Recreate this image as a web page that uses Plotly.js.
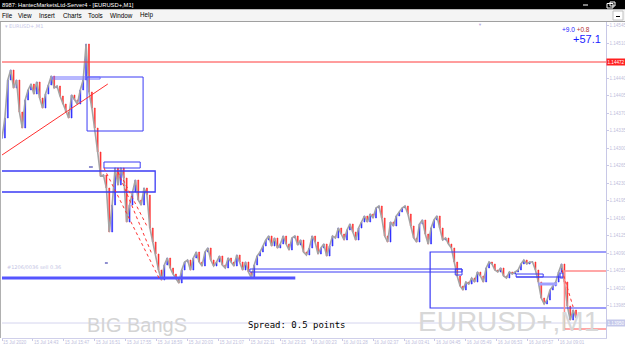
<!DOCTYPE html>
<html><head><meta charset="utf-8">
<script src="https://cdn.plot.ly/plotly-3.0.1.min.js"></script>
<style>html,body{margin:0;padding:0;background:#fff}#c{width:625px;height:350px}</style>
</head><body><div id="c"></div><script>
// bar time (minutes from 15 Jul 13:39, M1 bars)
const minutes = [0,6,12,18,24,30,36,42,48,54,60,66,72,78,84,90,96,102,108,114,120,126,132,138,144,150,156,162,168,174,180,186,192,198,204,210,216,222,228,234,240,246,252,258,264,270,276,282,288,294,300,306,312,318,324,330,336,342,348,354,360,366,372,378,384,390,396,402,408,414,420,426,432,438,444,450,456,462,468,474,480,486,492,498,504,510,516,522,528,534,540,546,552,558,564,570,576,582,588,594,600,606,612,618,624,630,636,642,648,654,660,666,672,678,684,690,696,702,708,714,720,726,732,738,744,750,756,762,768,774,780,786,792,798,804,810,816,822,828,834,840,846,852,858,864,870,876,882,888,894,900,906,912,918,924,930,936,942,948,954,960,966,972,978,984,990,996,1002,1008,1014,1020,1026,1032,1038,1044,1050,1056,1062,1068,1074,1080,1086,1092,1098,1104,1110,1116,1122,1128,1134,1140,1146,1152,1158,1164,1170,1176,1182,1188];
const closes = [
1.14320,1.14360,1.14436,1.14456,1.14420,1.14436,1.14372,1.14340,1.14396,1.14416,
1.14428,1.14408,1.14432,1.14400,1.14380,1.14408,1.14426,1.14444,1.14420,1.14424,
1.14404,1.14388,1.14372,1.14360,1.14406,1.14396,1.14388,1.14416,1.14436,1.14508,
1.14412,1.14380,1.14340,1.14292,1.14244,1.14246,1.14220,1.14132,1.14186,1.14260,
1.14226,1.14260,1.14240,1.14152,1.14186,1.14212,1.14236,1.14196,1.14186,1.14220,
1.14206,1.14140,1.14112,1.14088,1.14056,1.14036,1.14066,1.14080,1.14060,1.14048,
1.14040,1.14030,1.14056,1.14072,1.14076,1.14056,1.14080,1.14092,1.14072,1.14064,
1.14092,1.14100,1.14076,1.14064,1.14072,1.14084,1.14066,1.14060,1.14080,1.14072,
1.14064,1.14086,1.14072,1.14056,1.14072,1.14052,1.14040,1.14066,1.14084,1.14092,
1.14104,1.14116,1.14124,1.14104,1.14120,1.14100,1.14108,1.14124,1.14108,1.14096,
1.14120,1.14124,1.14106,1.14116,1.14092,1.14086,1.14100,1.14124,1.14112,1.14088,
1.14100,1.14108,1.14084,1.14104,1.14124,1.14120,1.14140,1.14128,1.14116,1.14136,
1.14148,1.14132,1.14116,1.14140,1.14152,1.14164,1.14152,1.14168,1.14160,1.14180,
1.14184,1.14160,1.14124,1.14112,1.14152,1.14144,1.14164,1.14172,1.14180,1.14184,
1.14168,1.14144,1.14120,1.14112,1.14148,1.14156,1.14128,1.14108,1.14140,1.14156,
1.14164,1.14140,1.14116,1.14120,1.14108,1.14100,1.14072,1.14044,1.14024,1.14016,
1.14032,1.14028,1.14040,1.14032,1.14052,1.14044,1.14032,1.14060,1.14072,1.14068,
1.14056,1.14052,1.14060,1.14044,1.14040,1.14052,1.14048,1.14052,1.14056,1.14068,
1.14076,1.14068,1.14072,1.14072,1.14056,1.14032,1.14000,1.13988,1.13996,1.14016,
1.14024,1.14032,1.14052,1.14068,1.14032,1.13984,1.13956,1.13976,1.13960];
const xTickVals = [0,64,128,192,256,320,384,448,512,576,640,704,768,832,896,960,1024,1088,1152];
const xTickText = ["15 Jul 2020","15 Jul 14:43","15 Jul 15:47","15 Jul 16:51","15 Jul 17:55","15 Jul 18:59","15 Jul 20:03","15 Jul 21:07","15 Jul 22:11","15 Jul 23:15","16 Jul 00:23","16 Jul 01:28","16 Jul 02:37","16 Jul 03:41","16 Jul 04:45","16 Jul 05:49","16 Jul 06:53","16 Jul 07:57","16 Jul 09:01"];
const yTickVals = [1.13985,1.14020,1.14055,1.14090,1.14125,1.14160,1.14195,1.14230,1.14265,1.14300,1.14335,1.14370,1.14405,1.14440,1.14510,1.14545];
const resistancePrice = 1.14472;
const bidPrice = 1.13950;
const title = "8987: HantecMarketsLtd-Server4 - [EURUSD+,M1]";
const menuItems = ["File","View","Insert","Charts","Tools","Window","Help"];

const opens = closes.map((c,i)=> i===0 ? c : closes[i-1]);
const highs = closes.map((c,i)=> Math.max(c, opens[i]));
const lows = closes.map((c,i)=> Math.min(c, opens[i]));

// pixel -> paper helpers for decoration
const L=2, T=22, W=604, H=316;
const px = x => (x-L)/W, py = y => (T+H-y)/H;

const B = '#3b3bf5';
const dataShape = (o) => Object.assign({xref:'x', yref:'y'}, o);
const shapes = [
  {type:'line', xref:'paper', yref:'y', x0:0, x1:1, y0:bidPrice, y1:bidPrice, line:{color:'#d4d4ee', width:1}, layer:'below'},
  {type:'rect', xref:'paper', yref:'paper', x0:px(0), x1:px(625), y0:py(0), y1:py(9.5), fillcolor:'#000', line:{width:0}},
  {type:'rect', xref:'paper', yref:'paper', x0:px(0), x1:px(625), y0:py(9.5), y1:py(21.5), fillcolor:'#f4f4f4', line:{width:0}},
  {type:'line', xref:'paper', yref:'paper', x0:px(0), x1:px(625), y0:py(21.5), y1:py(21.5), line:{color:'#a0a0a0', width:1}},
  {type:'line', xref:'paper', yref:'paper', x0:px(0.5), x1:px(0.5), y0:py(22), y1:py(338), line:{color:'#b0b0b0', width:1}},
  {type:'line', xref:'paper', yref:'paper', x0:px(583), x1:px(588), y0:py(5), y1:py(5), line:{color:'#fff', width:1}},
  {type:'rect', xref:'paper', yref:'paper', x0:px(607), x1:px(613), y0:py(3.5), y1:py(8), line:{color:'#fff', width:1}},
  {type:'rect', xref:'paper', yref:'paper', x0:px(610), x1:px(615), y0:py(2), y1:py(6), line:{color:'#fff', width:1}},
  {type:'rect', xref:'paper', yref:'paper', x0:px(613), x1:px(623), y0:py(11), y1:py(20), fillcolor:'#fff', line:{color:'#c0c0c0', width:1}},
  {type:'line', xref:'paper', yref:'paper', x0:px(616), x1:px(620), y0:py(16.5), y1:py(16.5), line:{color:'#000', width:1}},
  dataShape({type:'rect', x0:176, x1:292, y0:1.14334, y1:1.14442, line:{color:B, width:1}}),
  dataShape({type:'rect', x0:104, x1:203, y0:1.14438, y1:1.14442, line:{color:'#7070ff', width:1}}),
  {type:'line', xref:'paper', yref:'y', x0:0, x1:1, y0:resistancePrice, y1:resistancePrice, line:{color:'#ff3b3b', width:1}},
  dataShape({type:'line', x0:0, x1:219, y0:1.14286, y1:1.14428, line:{color:'#ff3030', width:1}}),
  dataShape({type:'rect', x0:211, x1:286, y0:1.14260, y1:1.14272, line:{color:B, width:1}}),
  dataShape({type:'rect', x0:-30, x1:317, y0:1.14212, y1:1.14254, line:{color:B, width:1.3}}),
  dataShape({type:'line', x0:-30, x1:607, y0:1.14040, y1:1.14040, line:{color:'#5555ff', width:3}}),
  dataShape({type:'rect', x0:513, x1:952, y0:1.14052, y1:1.14058, line:{color:B, width:1}}),
  dataShape({type:'rect', x0:938, x1:952, y0:1.14046, y1:1.14058, line:{color:B, width:1}}),
  dataShape({type:'rect', x0:886, x1:1300, y0:1.13980, y1:1.14092, line:{color:B, width:1.2}}),
  dataShape({type:'rect', x0:1064, x1:1120, y0:1.14042, y1:1.14048, line:{color:B, width:1}}),
  dataShape({type:'line', x0:1064, x1:1161, y0:1.14042, y1:1.14042, line:{color:B, width:1}}),
  dataShape({type:'rect', x0:1155, x1:1161, y0:1.14040, y1:1.14050, line:{color:B, width:1}}),
  dataShape({type:'line', x0:1110, x1:1149, y0:1.14028, y1:1.14028, line:{color:'#a0a0ff', width:3}}),
  dataShape({type:'rect', x0:1164, x1:1300, y0:1.13938, y1:1.14054, line:{color:'#ff8a8a', width:1.5}}),
  dataShape({type:'line', x0:1159, x1:1182, y0:1.14056, y1:1.13982, line:{color:'#ff3030', width:1, dash:'dot'}}),
  dataShape({type:'line', x0:211, x1:327, y0:1.14260, y1:1.14036, line:{color:'#ff3030', width:1, dash:'dot'}}),
  dataShape({type:'line', x0:240, x1:311, y0:1.14252, y1:1.14086, line:{color:'#ff3030', width:1, dash:'dot'}}),
  dataShape({type:'line', x0:251, x1:302, y0:1.14236, y1:1.14140, line:{color:'#ff3030', width:1, dash:'dot'}}),
  dataShape({type:'line', x0:180, x1:188, y0:1.14262, y1:1.14262, line:{color:'#2020a0', width:1}}),
  dataShape({type:'line', x0:213, x1:219, y0:1.14070, y1:1.14070, line:{color:'#2020a0', width:1}})
];

const ann = (o) => Object.assign({showarrow:false, xref:'paper', yref:'paper', yanchor:'middle'}, o);
const menuX = [0,16,37,61,86,108,138];
const annotations = [
  ann({x:px(0), y:py(5), xanchor:'left', text:title, font:{family:'Liberation Sans', size:5.8, color:'#fff'}}),
  ...menuItems.map((m,i)=>ann({x:px(menuX[i]), y:py(15.5), xanchor:'left', text:m, font:{family:'Liberation Sans', size:6.3, color:'#000'}})),
  ann({x:px(3), y:py(26.5), xanchor:'left', text:'▾ EURUSD+,M1', font:{family:'DejaVu Sans', size:5, color:'#c8c8e8'}}),
  ann({x:px(484), y:py(24.5), text:'▼', font:{size:4, color:'#b8a8e0'}}),
  ann({x:px(592), y:py(29.5), xanchor:'right', text:'<span style="color:#2020ff">+9.0</span> <span style="color:#b03030">+0.8</span>', font:{family:'Liberation Sans', size:6.5}}),
  ann({x:px(603), y:py(39.5), xanchor:'right', text:'+57.1', font:{family:'Liberation Sans', size:11, color:'#1a1aff'}}),
  ann({x:px(5), y:py(267), xanchor:'left', text:'#1206/0036 sell 0.36', font:{family:'DejaVu Sans', size:5, color:'#c4c4e4'}}),
  ann({x:px(85), y:py(325), text:'BIG BangS', font:{family:'Liberation Sans', size:20, color:'#d4d4d4'}}),
  ann({x:px(246), y:py(325), xanchor:'left', text:'Spread: 0.5 points', font:{family:'DejaVu Sans Mono', size:9, color:'#000'}}),
  ann({x:px(601), y:py(321), xanchor:'right', text:'EURUSD+,M1', font:{family:'Liberation Sans', size:28, color:'#d8d8d8'}}),
  ann({x:1, yref:'y', y:resistancePrice, xanchor:'left', text:resistancePrice.toFixed(5), bgcolor:'#ff2020', borderpad:0.5, font:{family:'Liberation Sans', size:4.6, color:'#fff'}}),
  ann({x:1, yref:'y', y:bidPrice, xanchor:'left', text:bidPrice.toFixed(5), bgcolor:'#c4c8ea', borderpad:0.5, font:{family:'Liberation Sans', size:4.6, color:'#fff'}})
];

const traces = [
  {type:'scatter', mode:'lines', x:minutes, y:closes, line:{color:'#a4a4a4', width:1.6}, hoverinfo:'skip'},
  {type:'candlestick', x:minutes, open:opens, high:highs, low:lows, close:closes,
   increasing:{line:{color:'#2a2aff', width:0.6}, fillcolor:'#2a2aff'},
   decreasing:{line:{color:'#ff2a2a', width:0.6}, fillcolor:'#ff2a2a'},
   whiskerwidth:0, hoverinfo:'skip'}
];

const layout = {
  width:625, height:350,
  margin:{l:L, r:625-L-W, t:T, b:350-T-H, autoexpand:false},
  paper_bgcolor:'#fff', plot_bgcolor:'#fff', showlegend:false,
  boxgap:0.55,
  xaxis:{range:[0,1250], tickvals:xTickVals, ticktext:xTickText, ticks:'outside', ticklen:2, tickcolor:'#c8c8e6',
    tickangle:0, tickfont:{family:'Liberation Sans', size:4.5, color:'#c0c0dc'}, ticklabelposition:'outside right',
    showgrid:false, zeroline:false, showline:true, linecolor:'#d0d0ea', linewidth:1, rangeslider:{visible:false}, fixedrange:true},
  yaxis:{range:[1.13920,1.14552], side:'right', tickvals:yTickVals, ticktext:yTickVals.map(v=>v.toFixed(5)),
    ticks:'outside', ticklen:1.5, tickcolor:'#c8c8e6', tickfont:{family:'Liberation Sans', size:4.6, color:'#c0c0dc'},
    showgrid:false, zeroline:false, showline:true, linecolor:'#c8c8e6', fixedrange:true},
  shapes:shapes, annotations:annotations
};
Plotly.newPlot('c', traces, layout, {staticPlot:true, displayModeBar:false});
</script></body></html>
